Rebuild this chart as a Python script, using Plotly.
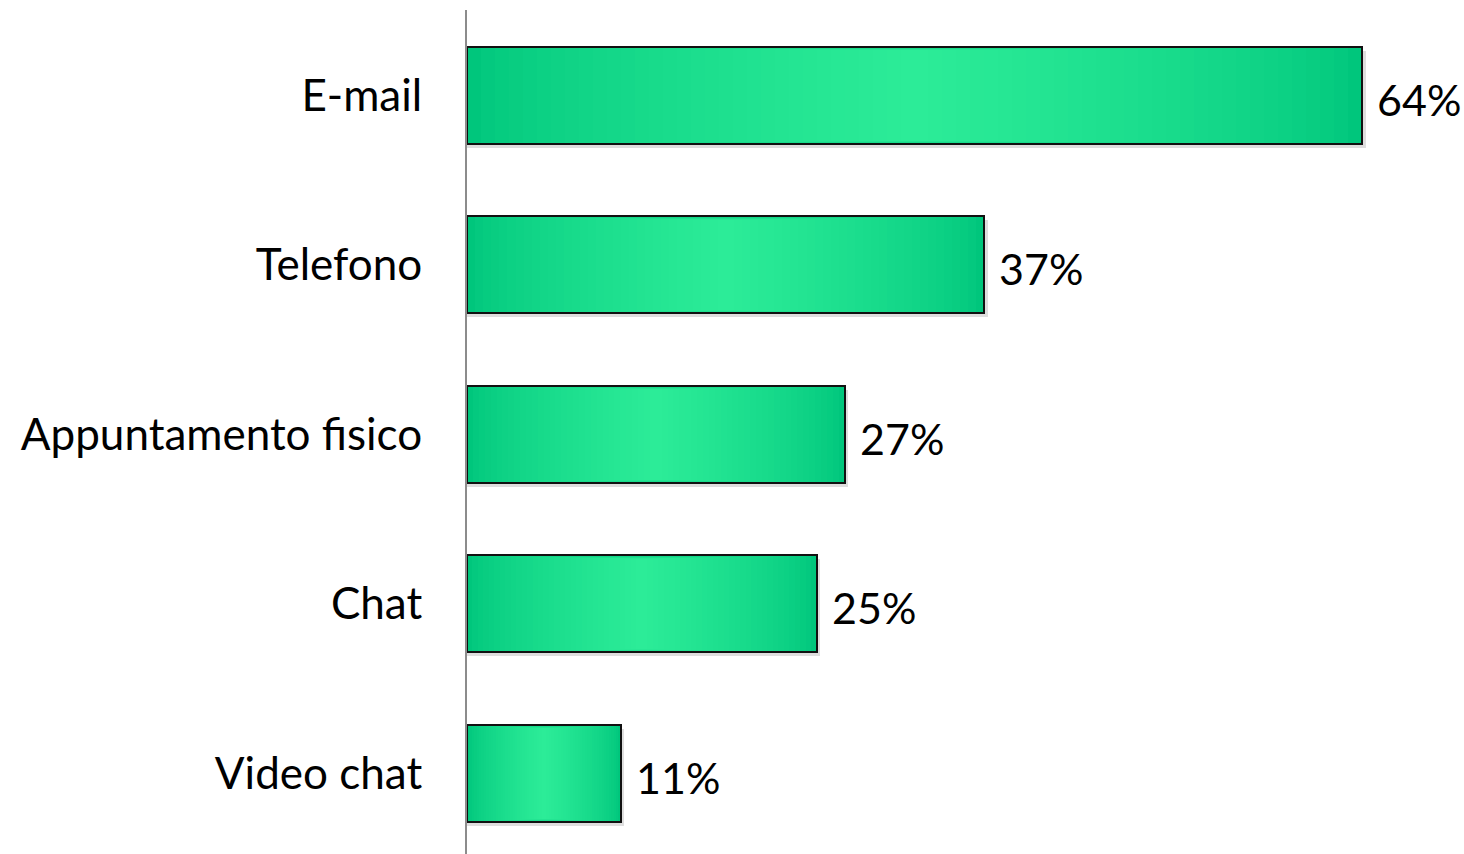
import plotly.graph_objects as go

categories = ["E-mail", "Telefono", "Appuntamento fisico", "Chat", "Video chat"]
values = [64, 37, 27, 25, 11]
value_labels = ["64%", "37%", "27%", "25%", "11%"]

FONT = "Lato"
pos = list(range(len(categories)))
BW = 0.572
EDGE = (0, 198, 124)
CENTER = (44, 236, 152)
K = 32

fig = go.Figure()

# drop shadow
fig.add_trace(go.Bar(
    y=pos, x=[v + 0.25 for v in values], orientation="h",
    width=[BW] * len(pos), offset=-BW / 2 + 0.022,
    marker=dict(color="rgba(0,0,0,0.13)", line=dict(width=0)),
    hoverinfo="skip", showlegend=False,
))

# gradient layers (centered, progressively narrower & lighter)
for k in range(K):
    t = (k / (K - 1)) ** 0.7
    col = tuple(round(EDGE[i] + (CENTER[i] - EDGE[i]) * t) for i in range(3))
    frac = 1 - k / K
    w = BW * (1 - 0.07 * (k / (K - 1)))
    fig.add_trace(go.Bar(
        y=pos, x=[v * frac for v in values],
        base=[v * (1 - frac) / 2 for v in values],
        orientation="h", width=[w] * len(pos),
        marker=dict(color="rgb(%d,%d,%d)" % col, line=dict(width=0)),
        hoverinfo="skip", showlegend=False,
    ))

# outline
fig.add_trace(go.Bar(
    y=pos, x=values, orientation="h", width=[BW] * len(pos),
    marker=dict(color="rgba(0,0,0,0)", line=dict(color="#111111", width=2)),
    showlegend=False,
))

for v, lab, p in zip(values, value_labels, pos):
    fig.add_annotation(
        x=v, y=p, text=lab, xanchor="left", yanchor="middle",
        xshift=13, yshift=-4, showarrow=False,
        font=dict(family=FONT, size=43, color="#000000"),
    )

PX_PER = (1362 - 467) / 64
fig.update_layout(
    width=1464, height=854,
    margin=dict(l=467, r=0, t=10, b=0),
    paper_bgcolor="white", plot_bgcolor="white",
    barmode="overlay", bargap=0,
    xaxis=dict(range=[0, 997 / PX_PER], showgrid=False, zeroline=False,
               showline=False, showticklabels=False, ticks=""),
    yaxis=dict(range=[4.475, -0.504], tickvals=pos, ticktext=categories,
               showgrid=False, zeroline=False, showline=True,
               linecolor="#8c8c8c", linewidth=2, ticks="",
               ticklabelstandoff=34,
               tickfont=dict(family=FONT, size=44, color="#000000")),
    font=dict(family=FONT),
)

fig.write_html("out.html")
